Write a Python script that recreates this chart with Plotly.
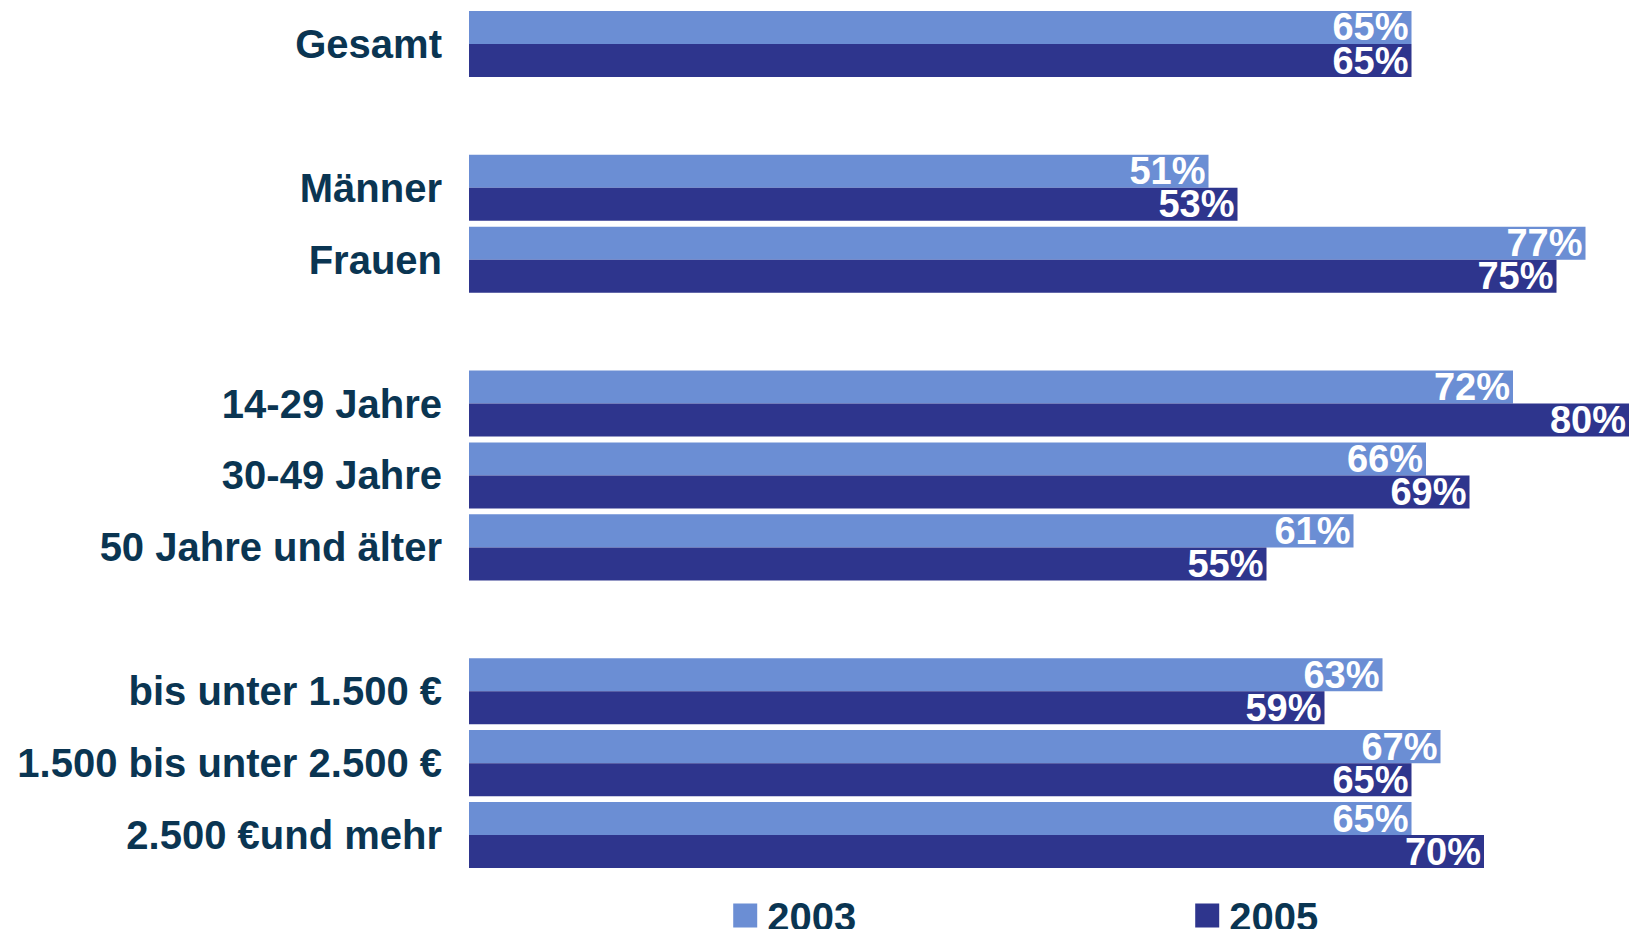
import plotly.graph_objects as go

# categories top -> bottom, with blank spacer rows between the groups
categories = ["Gesamt", "Männer", "Frauen",
              "14-29 Jahre", "30-49 Jahre", "50 Jahre und älter",
              "bis unter 1.500 €", "1.500 bis unter 2.500 €", "2.500 €und mehr"]
row_order = ["Gesamt", " ",
             "Männer", "Frauen", "  ",
             "14-29 Jahre", "30-49 Jahre", "50 Jahre und älter", "   ",
             "bis unter 1.500 €", "1.500 bis unter 2.500 €", "2.500 €und mehr"]
values_2003 = [65, 51, 77, 72, 66, 61, 63, 67, 65]
values_2005 = [65, 53, 75, 80, 69, 55, 59, 65, 70]

LIGHT = "#6B8ED4"
DARK = "#2E358D"
LABEL = "#0A3552"
FONT = "Liberation Sans, Arial, sans-serif"

fig = go.Figure()
for name, vals, col in [("2003", values_2003, LIGHT), ("2005", values_2005, DARK)]:
    fig.add_trace(go.Bar(
        y=categories, x=vals, name=name, orientation="h",
        marker=dict(color=col, line=dict(width=0)),
        texttemplate="%{x}%", textposition="inside", insidetextanchor="end",
        constraintext="none",
        textfont=dict(family=FONT, size=38, color="white", weight="bold"),
        hoverinfo="skip",
    ))

fig.update_layout(
    width=1629, height=929,
    margin=dict(l=469, r=0, t=8, b=58, autoexpand=False),
    paper_bgcolor="white", plot_bgcolor="white",
    barmode="group", bargap=0.08, bargroupgap=0,
    xaxis=dict(range=[0, 80], visible=False, fixedrange=True),
    yaxis=dict(type="category", categoryorder="array", categoryarray=row_order,
               range=[11.5, -0.5], showgrid=False, zeroline=False, showline=False,
               ticks="", ticklabelstandoff=26, fixedrange=True,
               tickfont=dict(family=FONT, size=40, color=LABEL, weight="bold")),
    legend=dict(orientation="h", x=0.2226, y=-0.014, xanchor="left", yanchor="top",
                entrywidth=417,
                font=dict(family=FONT, size=40, color=LABEL, weight="bold")),
    showlegend=True,
)

# drop the browser's default body margin so the figure fills the window,
# and make the legend squares as big as in the original
js = ("document.body.style.margin='0';"
      "document.body.style.overflow='hidden';"
      "document.querySelectorAll('.legendpoints path')"
      ".forEach(function(p){p.setAttribute('transform','translate(18,0) scale(2)');});")
fig.write_html("out.html", post_script=js, config={"displayModeBar": False})
